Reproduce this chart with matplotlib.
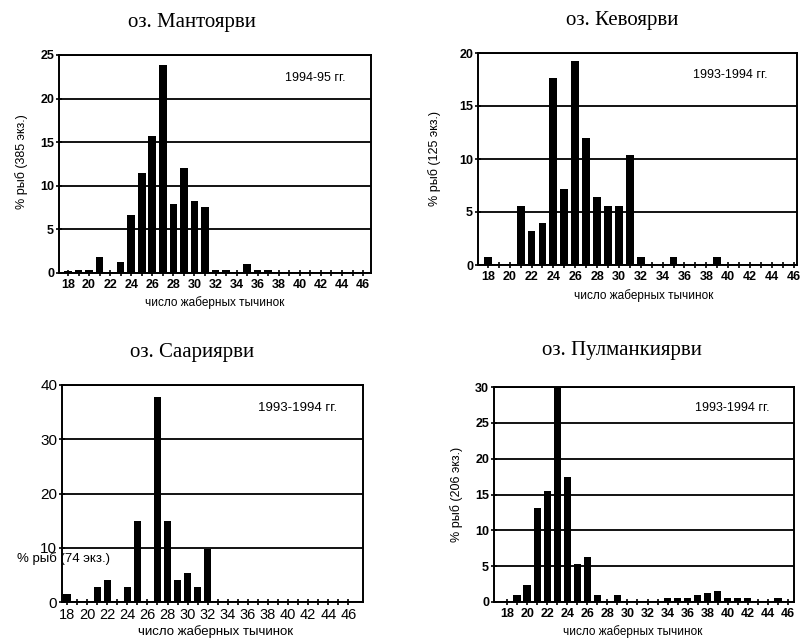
import matplotlib
matplotlib.use("Agg")
import matplotlib.pyplot as plt

# Число жаберных тычинок (категории по оси X)
rakers = [18, 19, 20, 21, 22, 23, 24, 25, 26, 27, 28, 29, 30, 31, 32,
          33, 34, 35, 36, 37, 38, 39, 40, 41, 42, 43, 44, 45, 46]
tick_labels = ["18", "20", "22", "24", "26", "28", "30", "32",
               "34", "36", "38", "40", "42", "44", "46"]

# % рыб по числу тычинок, для каждого озера
mantojarvi = [0.2, 0.4, 0.4, 1.8, 0.0, 1.3, 6.6, 11.5, 15.7, 23.8, 7.9, 12.0, 8.2, 7.6, 0.3,
              0.3, 0.0, 1.0, 0.4, 0.4, 0.0, 0.0, 0.0, 0.0, 0.0, 0.0, 0.0, 0.0, 0.0]
kevojarvi = [0.8, 0.0, 0.0, 5.6, 3.2, 4.0, 17.6, 7.2, 19.2, 12.0, 6.4, 5.6, 5.6, 10.4, 0.8,
             0.0, 0.0, 0.8, 0.0, 0.0, 0.0, 0.8, 0.0, 0.0, 0.0, 0.0, 0.0, 0.0, 0.0]
saarijarvi = [1.4, 0.0, 0.0, 2.7, 4.1, 0.0, 2.7, 14.9, 0.0, 37.8, 14.9, 4.1, 5.4, 2.7, 9.8,
              0.0, 0.0, 0.0, 0.0, 0.0, 0.0, 0.0, 0.0, 0.0, 0.0, 0.0, 0.0, 0.0, 0.0]
pulmankijarvi = [0.0, 1.0, 2.4, 13.1, 15.5, 30.1, 17.5, 5.3, 6.3, 1.0, 0.0, 1.0, 0.0, 0.0, 0.0,
                 0.0, 0.5, 0.5, 0.5, 1.0, 1.2, 1.5, 0.5, 0.5, 0.5, 0.0, 0.0, 0.5, 0.0]

W, H = 804, 639
fig = plt.figure(figsize=(W / 100, H / 100), dpi=100)
fig.patch.set_facecolor("white")

SANS = "Liberation Sans"
SERIF = "Liberation Serif"


def px_rect(left, top, right, bottom):
    return [left / W, 1 - bottom / H, (right - left) / W, (bottom - top) / H]


def fig_text(x, y, s, **kw):
    fig.text(x / W, 1 - y / H, s, **kw)


def draw_panel(rect, values, ymax, ystep, xlim, tick_size=9, ytick_size=9, weight="bold"):
    ax = fig.add_axes(rect)
    ax.bar(rakers, values, width=0.72, color="black", zorder=3)
    ax.set_xlim(*xlim)
    ax.set_ylim(0, ymax)
    ax.set_xticks([int(t) for t in tick_labels])
    ax.set_xticklabels(tick_labels, fontfamily=SANS, fontsize=tick_size, fontweight=weight)
    ax.set_xticks(rakers, minor=True)
    yt = list(range(0, ymax + 1, ystep))
    ax.set_yticks(yt)
    ax.set_yticklabels([str(v) for v in yt], fontfamily=SANS, fontsize=ytick_size,
                       fontweight=weight)
    ax.tick_params(axis="x", which="both", direction="inout", length=5, width=1.2, pad=2)
    ax.tick_params(axis="y", direction="inout", length=5, width=1.2, pad=1)
    # горизонтальные линии сетки
    ax.grid(axis="y", color="black", linewidth=1.3, zorder=1)
    for s in ax.spines.values():
        s.set_linewidth(1.4)
        s.set_color("black")
    return ax


# оз. Мантоярви
draw_panel(px_rect(59, 55, 371, 273), mantojarvi, 25, 5, (17.15, 46.75))
fig_text(192, 22, "оз. Мантоярви", fontfamily=SERIF, fontsize=15, ha="center", va="center")
fig_text(315, 78, "1994-95 гг.", fontfamily=SANS, fontsize=9, ha="center", va="center")
fig_text(22, 162, "% рыб (385 экз.)", fontfamily=SANS, fontsize=9, rotation=90,
         ha="center", va="center")
fig_text(215, 303, "число жаберных тычинок", fontfamily=SANS, fontsize=8.5,
         ha="center", va="center")

# оз. Кевоярви
draw_panel(px_rect(478, 53, 797, 265), kevojarvi, 20, 5, (17.1, 46.3))
fig_text(622, 20, "оз. Кевоярви", fontfamily=SERIF, fontsize=15, ha="center", va="center")
fig_text(730, 75, "1993-1994 гг.", fontfamily=SANS, fontsize=9, ha="center", va="center")
fig_text(435, 158, "% рыб (125 экз.)", fontfamily=SANS, fontsize=9, rotation=90,
         ha="center", va="center")
fig_text(644, 296, "число жаберных тычинок", fontfamily=SANS, fontsize=8.5,
         ha="center", va="center")

# оз. Саариярви
draw_panel(px_rect(62, 385, 363, 602), saarijarvi, 40, 10, (17.5, 47.45),
           tick_size=10.5, ytick_size=11, weight="normal")
fig_text(192, 352, "оз. Саариярви", fontfamily=SERIF, fontsize=15, ha="center", va="center")
fig_text(298, 408, "1993-1994 гг.", fontfamily=SANS, fontsize=9.5, ha="center", va="center")
fig_text(17, 559, "% рыб (74 экз.)", fontfamily=SANS, fontsize=9.5, ha="left", va="center")
fig_text(216, 632, "число жаберных тычинок", fontfamily=SANS, fontsize=9.5,
         ha="center", va="center")

# оз. Пулманкиярви
draw_panel(px_rect(494, 387, 794, 602), pulmankijarvi, 30, 5, (16.7, 46.6))
fig_text(622, 350, "оз. Пулманкиярви", fontfamily=SERIF, fontsize=15, ha="center", va="center")
fig_text(732, 408, "1993-1994 гг.", fontfamily=SANS, fontsize=9, ha="center", va="center")
fig_text(457, 494, "% рыб (206 экз.)", fontfamily=SANS, fontsize=9, rotation=90,
         ha="center", va="center")
fig_text(633, 632, "число жаберных тычинок", fontfamily=SANS, fontsize=8.5,
         ha="center", va="center")

plt.savefig("out.png", dpi=100)
